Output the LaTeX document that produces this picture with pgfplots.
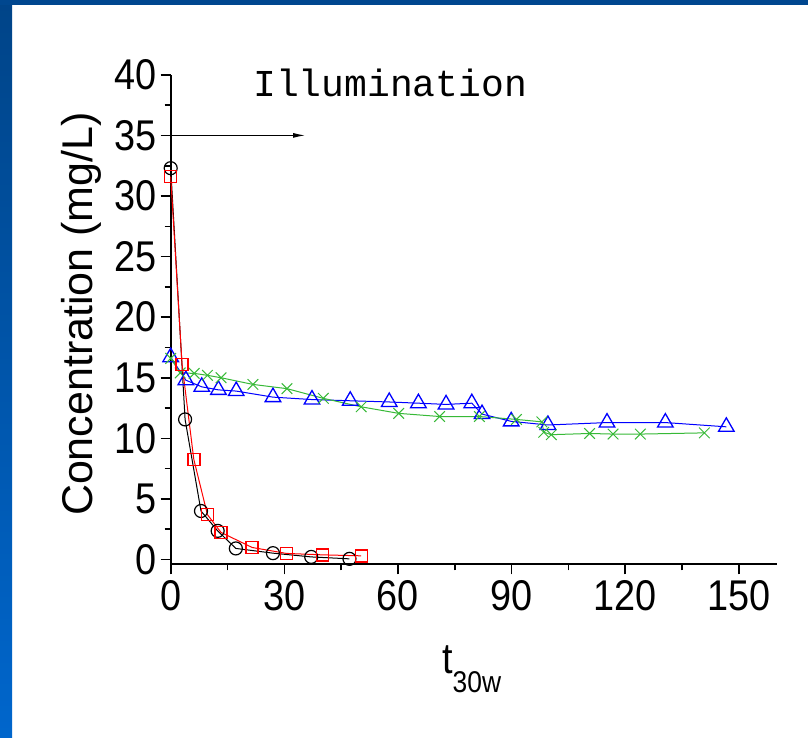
\documentclass[border=0pt]{standalone}
\usepackage{pgfplots}
\pgfplotsset{compat=1.18}
\usepackage{fontspec}
\setmainfont{Liberation Sans}
\newfontfamily\tickfont[FakeStretch=0.88]{Liberation Sans}
\newfontfamily\monofont{Liberation Mono}
\usetikzlibrary{arrows.meta}
\definecolor{bordertop}{RGB}{0,71,143}
\definecolor{bordertopL}{RGB}{0,68,136}
\definecolor{borderbot}{RGB}{0,102,204}
\definecolor{mygreen}{RGB}{55,185,55}
\begin{document}
\begin{tikzpicture}[x=1pt,y=1pt]
\useasboundingbox (0,0) rectangle (808,-738);
\fill[white] (0,0) rectangle (808,-738);
\shade[top color=bordertopL, bottom color=borderbot] (0,0) rectangle (12,-738);
\fill[bordertop] (0,0) rectangle (808,-5);
\begin{axis}[
  at={(170.7pt,-564.3pt)}, anchor=south west, scale only axis,
  width=606pt, height=489.4pt,
  xmin=0, xmax=160, ymin=-0.4, ymax=40,
  axis x line*=bottom, axis y line*=left,
  axis line style={line width=2.2pt, black, -},
  xtick={0,30,...,150}, ytick={0,5,...,40},
  minor xtick={15,45,...,135}, minor ytick={2.5,7.5,...,37.5},
  tick align=outside, major tick length=10pt, minor tick length=6pt,
  every tick/.style={line width=1.6pt, black},
  /pgf/number format/assume math mode=true,
  ticklabel style={font=\tickfont\fontsize{43}{43}\selectfont, inner sep=0pt},
  xticklabel style={yshift=-6pt},
  yticklabel style={xshift=-4pt},
  clip=false,
]
\addplot[blue, line width=1pt, mark=triangle, mark size=9pt, mark options={solid, line width=1.3pt}] coordinates {
(0,16.7) (4.0,14.8) (8.2,14.25) (12.6,14.0) (17.3,13.9) (27.0,13.4) (37.3,13.2) (47.4,13.1) (57.7,13.0) (65.4,12.9) (72.7,12.8) (79.5,12.9) (82.2,12.0) (89.9,11.4) (99.6,11.1) (115.2,11.3) (130.6,11.3) (146.7,10.95)
};
\addplot[mygreen, line width=1pt, mark=x, mark size=7.5pt, mark options={solid, line width=1pt}] coordinates {
(0,16.6) (2.5,15.4) (6.2,15.36) (9.7,15.2) (13.3,15.0) (21.7,14.45) (30.7,14.1) (40.3,13.3) (50.3,12.6) (60.2,12.06) (71.0,11.8) (81.5,11.8) (91.3,11.56) (98.0,11.36) (98.5,10.5) (100.5,10.3) (110.6,10.4) (116.8,10.35) (124.0,10.35) (140.9,10.45)
};
\addplot[black, line width=1pt, mark=o, mark size=6.5pt, mark options={solid, line width=1.2pt}] coordinates {
(0,32.3) (3.8,11.56) (8.0,4.0) (12.4,2.36) (17.2,0.91) (27.0,0.52) (37.1,0.21) (47.2,0.05)
};
\addplot[red, line width=1pt, mark=square, mark size=6pt, mark options={solid, line width=1.4pt, draw=red}] coordinates {
(0,31.6) (3.0,16.1) (6.1,8.26) (9.7,3.7) (13.3,2.23) (21.5,0.99) (30.5,0.5) (40.1,0.38) (50.3,0.3)
};
\end{axis}
\draw[line width=1pt, -{Latex[length=12pt,width=5pt]}] (171,-135.4) -- (305,-135.4);
\node[anchor=base west, inner sep=0pt, font=\monofont\fontsize{38}{38}\selectfont] at (253,-97) {Illumination};
\node[rotate=90, inner sep=0pt, font=\fontsize{43}{43}\selectfont] at (81,-314) {Concentration (mg/L)};
\node[anchor=base west, inner sep=0pt] at (442,-673) {\tickfont\fontsize{43}{43}\selectfont t\raisebox{-19pt}{\fontsize{30}{30}\selectfont 30w}};
\end{tikzpicture}
\end{document}
